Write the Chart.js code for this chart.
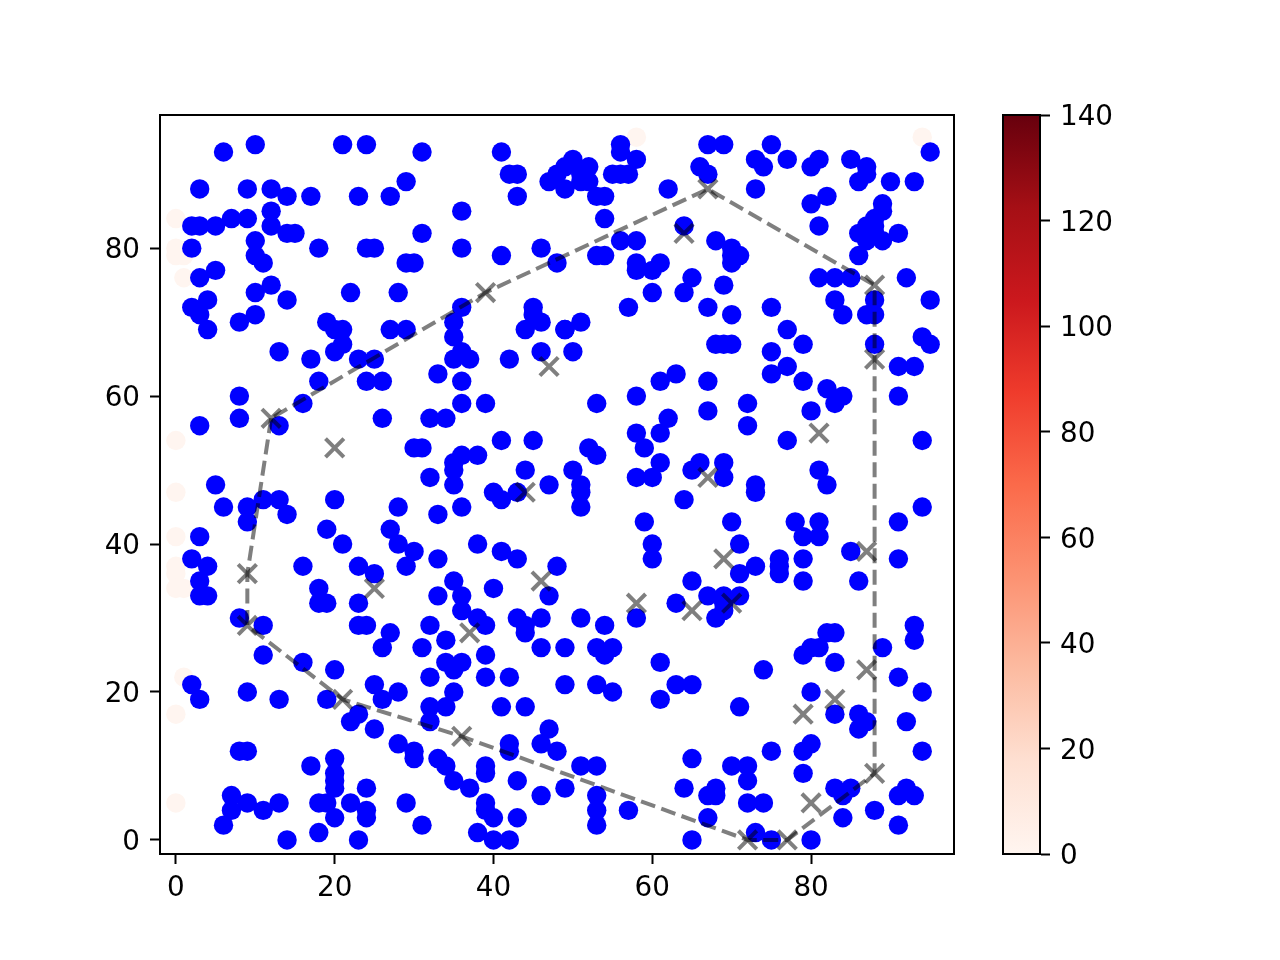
<!DOCTYPE html>
<html>
<head>
<meta charset="utf-8">
<style>
  html, body { margin: 0; padding: 0; background: #fff; }
  canvas { position: absolute; top: 0; }
  #plot { left: 0; }
  #bar { left: 1000px; }
</style>
<script src="https://cdn.jsdelivr.net/npm/chart.js@4"></script>
</head>
<body>
<canvas id="plot" width="1000" height="960"></canvas>
<canvas id="bar" width="280" height="960"></canvas>
<script>
const xTicks = [0, 20, 40, 60, 80]
const yTicks = [0, 20, 40, 60, 80]
const barTicks = [0, 20, 40, 60, 80, 100, 120, 140]
const barRange = [0, 140]
const redsStops = ["#fff5f0", "#fee0d2", "#fcbba1", "#fc9272", "#fb6a4a", "#ef3b2c", "#cb181d", "#a50f15", "#67000d"]

// points at value ~0, nearly white
const faintPoints = [
    [0,84],[0,80],[0,79],[1,79],[1,76],[0,54],[0,47],[0,41],[0,37],[0,36],[0,34],[1,34],
    [1,22],[0,17],[0,5],[58,95],[94,95]
]

const bluePoints = [
    // top left
    [6,93],[10,94],[21,94],[24,94],[31,93],[41,93],[42,90],[43,90],[47,89],[43,87],[3,88],[9,88],[12,88],
    [14,87],[17,87],[23,87],[27,87],[29,89],[36,85],[12,85],[2,83],[3,83],[5,83],[7,84],[9,84],[12,83],
    [14,82],[15,82],[31,82],[2,80],[10,81],[10,79],[11,78],[18,80],[24,80],[25,80],[36,80],[41,79],[46,80],
    [48,78],[29,78],[30,78],[5,77],[3,76],[12,75],[10,74],[22,74],[28,74],[4,73],[2,72],[3,71],[4,69],
    [14,73],[10,71],[8,70],[36,72],[35,70],[35,68],[45,72],[45,71],[46,70],[44,69],[19,70],[20,69],[21,69],
    [21,67],[20,66],[27,69],[29,69],[13,66],[17,65],[23,65],[25,65],[18,62],[24,62],[26,62],[35,65],[36,66],
    [37,65],[33,63],[36,62],[42,65],[46,66],[49,69],[8,60],[8,57],[16,59],[36,59],[39,59],[26,57],[32,57],
    [34,57],[3,56],[13,56],[41,54],[45,54],[30,53],[31,53],[36,52],[38,52],[35,51],[35,50],[44,50],[32,49],
    [35,48],[47,48],[5,48],[40,47],[43,47],
    // top right
    [56,94],[56,93],[58,92],[55,90],[56,90],[57,90],[50,92],[49,91],[48,90],[49,88],[51,89],[52,89],[51,90],
    [52,91],[53,87],[54,87],[54,84],[62,88],[67,94],[69,94],[66,91],[67,90],[73,92],[74,91],[77,92],[75,94],
    [80,91],[81,92],[73,88],[85,92],[87,91],[87,90],[86,89],[90,89],[93,89],[95,93],[80,86],[82,87],[81,83],
    [89,86],[89,85],[88,84],[87,83],[86,82],[87,82],[88,82],[87,81],[89,81],[91,82],[88,83],[86,79],[64,83],
    [56,81],[58,81],[53,79],[54,79],[58,78],[58,77],[60,77],[61,78],[68,81],[70,80],[71,79],[70,78],[70,79],
    [65,76],[64,74],[60,74],[69,75],[57,72],[67,72],[70,71],[81,76],[83,76],[85,76],[92,76],[83,73],[84,71],
    [88,73],[87,71],[88,71],[95,73],[75,72],[77,69],[79,67],[75,66],[77,64],[75,63],[79,62],[68,67],[69,67],
    [70,67],[88,67],[94,68],[95,67],[91,64],[93,64],[49,69],[51,70],[50,66],[63,63],[61,62],[67,62],[82,61],
    [84,60],[83,59],[80,58],[91,60],[58,60],[53,59],[72,59],[67,58],[72,56],[62,57],[61,55],[58,55],[59,53],
    [52,53],[53,52],[77,54],[94,54],[50,50],[51,48],[61,51],[58,49],[60,49],[66,51],[65,50],[69,51],[69,49],
    [73,48],[81,50],[82,48],
    // bottom left
    [6,45],[9,45],[11,46],[13,46],[14,44],[9,43],[20,46],[28,45],[36,45],[33,44],[41,46],[19,42],[21,40],
    [27,42],[28,40],[30,39],[29,37],[33,38],[38,40],[41,39],[43,38],[48,37],[3,41],[2,38],[4,37],[3,35],
    [3,33],[4,33],[16,37],[23,37],[25,36],[18,34],[18,32],[19,32],[23,32],[35,35],[36,33],[33,33],[40,34],
    [47,33],[8,30],[11,29],[23,29],[24,29],[27,28],[26,26],[31,26],[32,29],[34,27],[36,31],[38,30],[39,29],
    [43,30],[44,29],[44,28],[46,30],[46,26],[39,25],[34,24],[36,24],[35,23],[11,25],[16,24],[20,23],[39,22],
    [42,22],[32,22],[49,21],[2,21],[3,19],[9,20],[13,19],[19,19],[25,21],[26,19],[28,20],[35,20],[34,18],
    [32,18],[32,16],[41,18],[44,18],[23,17],[22,16],[25,15],[47,15],[46,13],[48,12],[42,13],[42,12],[28,13],
    [30,12],[30,11],[33,11],[34,10],[35,8],[37,7],[39,10],[39,9],[43,8],[46,6],[49,7],[8,12],[9,12],[20,11],
    [17,10],[20,9],[20,8],[20,7],[24,7],[7,6],[7,4],[9,5],[11,4],[13,5],[6,2],[18,5],[19,5],[20,3],
    [22,5],[24,4],[24,3],[29,5],[31,2],[39,5],[39,4],[40,3],[43,3],[38,1],[40,0],[42,0],[18,1],[14,0],[23,0],
    // bottom right
    [51,47],[51,45],[64,46],[73,47],[94,45],[59,43],[70,43],[78,43],[81,43],[79,41],[81,41],[91,43],[60,40],
    [60,38],[71,40],[85,39],[91,38],[79,38],[76,38],[76,37],[76,36],[73,37],[71,36],[79,35],[86,35],[65,35],
    [67,33],[69,33],[71,33],[69,32],[68,30],[69,31],[63,32],[51,30],[54,29],[58,30],[49,26],[53,26],[55,26],
    [54,25],[61,24],[53,21],[55,20],[63,21],[65,21],[61,19],[74,23],[71,18],[93,29],[93,27],[89,26],[82,28],
    [83,28],[81,26],[80,26],[79,25],[83,24],[91,22],[94,20],[80,20],[83,17],[86,17],[87,16],[86,15],[92,16],
    [79,12],[80,13],[75,12],[94,12],[79,9],[65,11],[51,10],[53,10],[70,10],[72,10],[72,8],[68,7],[67,6],
    [68,6],[64,7],[53,6],[53,4],[53,2],[57,4],[67,3],[65,0],[72,5],[74,5],[73,1],[75,0],[80,0],[83,7],[85,7],
    [84,6],[84,3],[88,4],[91,6],[92,7],[93,6],[91,2]
]

const crossPoints = [
    [12,57],[20,53],[39,74],[47,64],[64,82],[67,88],[88,75],[88,65],[81,55],[67,49],[44,47],[9,36],[9,29],
    [25,34],[37,28],[21,19],[36,14],[46,35],[69,38],[58,32],[65,31],[70,32],[79,17],[83,19],[87,23],[87,39],
    [88,9],[80,5],[72,0],[77,0]
]

const hullPoints = [
    [12,57],[9,36],[9,29],[21,19],[36,14],[72,0],[77,0],[88,9],[88,65],[88,75],[67,88],[39,74],[12,57]
]

const toXY = pts => pts.map(p => ({ x: p[0], y: p[1] }))
const font = { family: "'DejaVu Sans'", size: 27.8 }

// matplotlib style box round the axes, and its labels sit a bit off from where chart.js puts them
const frame = {
    id: "frame",
    afterLayout(chart) {
        chart.scales.y.getLabelItems().forEach(item => { item.options.translation[1] += 3 })
        if (chart.scales.x.options.type === "linear") {
            chart.scales.x.getLabelItems().forEach(item => { item.options.translation[1] -= 2 })
        }
    },
    afterDraw(chart) {
        const a = chart.chartArea, c = chart.ctx
        c.save()
        c.strokeStyle = "#000"
        c.lineWidth = 2
        c.strokeRect(a.left, a.top, a.right - a.left, a.bottom - a.top)
        c.restore()
    }
}

const tickScale = (ticks, extra) => Object.assign({
    type: "linear",
    afterBuildTicks: s => { s.ticks = ticks.map(v => ({ value: v })) },
    grid: { drawOnChartArea: false, drawTicks: true, tickLength: 10, tickWidth: 2, color: "#000" },
    border: { display: true, color: "#000", width: 2 },
    ticks: { color: "#000", font: font, padding: 10, maxRotation: 0, autoSkip: false }
}, extra)

new Chart(document.getElementById("plot").getContext("2d"), {
    type: "scatter",
    plugins: [frame],
    data: {
        datasets: [
            {
                data: toXY(hullPoints),
                showLine: true,
                borderColor: "rgba(0,0,0,0.5)",
                borderWidth: 4,
                borderDash: [15, 6.5],
                pointRadius: 0,
                order: 1
            },
            {
                data: toXY(crossPoints),
                pointStyle: "crossRot",
                pointRadius: 13,
                pointBorderColor: "rgba(0,0,0,0.5)",
                pointBorderWidth: 4,
                order: 2
            },
            {
                data: toXY(bluePoints),
                backgroundColor: "#0000ff",
                pointBorderWidth: 0,
                pointRadius: 9.7,
                order: 3
            },
            {
                data: toXY(faintPoints),
                backgroundColor: redsStops[0],
                pointBorderWidth: 0,
                pointRadius: 9.7,
                order: 4
            }
        ]
    },
    options: {
        responsive: false,
        animation: false,
        layout: { padding: { top: 115, right: 46, left: 0, bottom: 0 } },
        plugins: { legend: { display: false }, tooltip: { enabled: false } },
        scales: {
            x: tickScale(xTicks, { min: -2, max: 98, afterFit: s => { s.height = 106 } }),
            y: tickScale(yTicks, { min: -1.9, max: 98, afterFit: s => { s.width = 160 } })
        }
    }
})

new Chart(document.getElementById("bar").getContext("2d"), {
    type: "bar",
    plugins: [frame],
    data: {
        labels: [""],
        datasets: [{
            data: [barRange],
            barPercentage: 1,
            categoryPercentage: 1,
            backgroundColor: ctx => {
                const a = ctx.chart.chartArea
                if (!a) return redsStops[0]
                const g = ctx.chart.ctx.createLinearGradient(0, a.bottom, 0, a.top)
                redsStops.forEach((col, i) => g.addColorStop(i / (redsStops.length - 1), col))
                return g
            }
        }]
    },
    options: {
        responsive: false,
        animation: false,
        layout: { padding: { top: 115, bottom: 106, left: 3, right: 0 } },
        plugins: { legend: { display: false }, tooltip: { enabled: false } },
        scales: {
            x: { display: false },
            y: tickScale(barTicks, {
                position: "right",
                min: barRange[0],
                max: barRange[1],
                afterFit: s => { s.width = 240 }
            })
        }
    }
})
</script>
</body>
</html>
